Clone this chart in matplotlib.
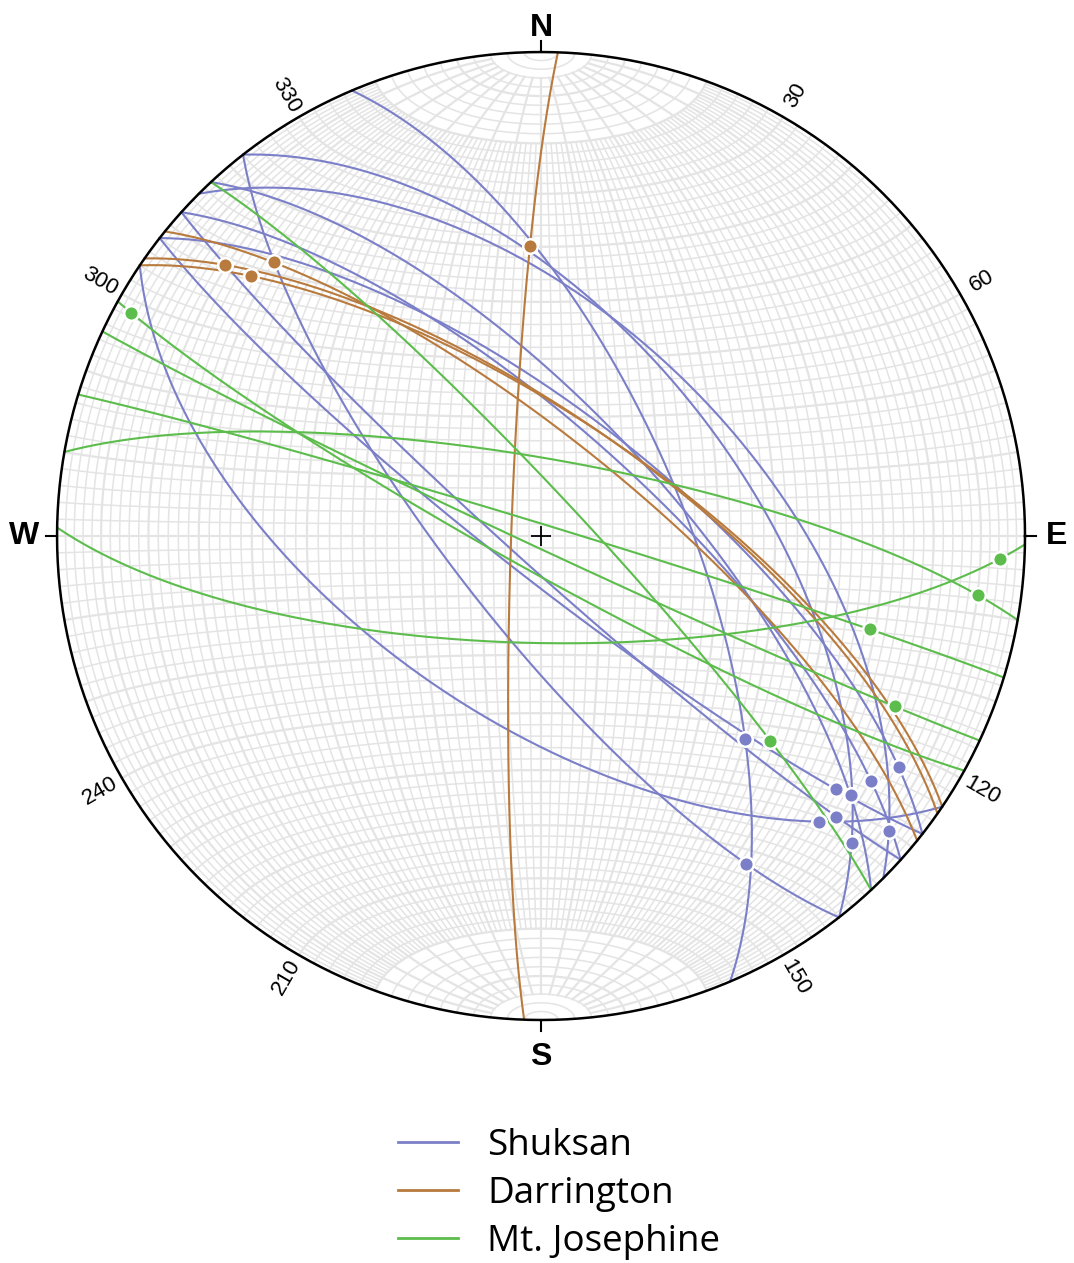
import numpy as np
import matplotlib.pyplot as plt
from matplotlib.lines import Line2D

# fault planes: strike (right-hand rule), dip, and rake of the slickenline on each plane
shuksan_strike = [337, 322, 142, 317, 315, 312, 132, 308, 128, 124]
shuksan_dip = [66, 56, 75, 69, 54, 72, 85, 69, 83, 59]
shuksan_rake = [135, 167, 22, 161, 172, 163, 17, 166, 21, 22]

darrington_strike = [182, 305, 304, 309]
darrington_dip = [85, 70, 70, 74]
darrington_rake = [140, 16, 22, 23]

josephine_strike = [317, 119, 115, 287, 280, 91]
josephine_dip = [83, 84, 88, 88, 77, 72]
josephine_rake = [143, 176, 20, 150, 170, 6]

group_names = ["Shuksan", "Darrington", "Mt. Josephine"]
group_colors = ["#7b7fc8", "#b87a3d", "#5cbd4c"]

tick_labels = [30, 60, 120, 150, 210, 240, 300, 330]
compass = {"N": 0, "E": 90, "S": 180, "W": 270}


def project(v):
    # lower hemisphere equal-area (Schmidt) projection, unit primitive
    x, y, z = v
    f = 1.0 / np.sqrt(1.0 - z)
    return x * f, y * f


def plane_basis(strike, dip):
    s = np.radians(strike)
    d = np.radians(dip)
    sv = np.array([np.sin(s), np.cos(s), 0.0])
    dd = s + np.pi / 2
    dv = np.array([np.cos(d) * np.sin(dd), np.cos(d) * np.cos(dd), -np.sin(d)])
    return sv, dv


def great_circle(strike, dip):
    sv, dv = plane_basis(strike, dip)
    r = np.radians(np.linspace(0, 180, 361))
    v = np.outer(sv, np.cos(r)) + np.outer(dv, np.sin(r))
    return project(v)


def rake_point(strike, dip, rake):
    sv, dv = plane_basis(strike, dip)
    r = np.radians(rake)
    v = sv * np.cos(r) + dv * np.sin(r)
    return project(v)


def net_line(a, b):
    # a: angle from the N axis, b: rotation about it (both deg, arrays ok)
    a = np.radians(a)
    b = np.radians(b)
    v = np.array([np.sin(a) * np.cos(b), np.cos(a) * np.ones_like(b), -np.sin(a) * np.sin(b)])
    return project(v)


fig = plt.figure(figsize=(10.74, 12.63), dpi=100)
ax = fig.add_axes([0.0531, 0.1924, 0.9013, 0.7664])
ax.set_xlim(-1, 1)
ax.set_ylim(-1, 1)
ax.set_aspect("equal")
ax.axis("off")

grid_c = "#e4e4e4"
t = np.linspace(0, 180, 181)
# small circles about the N-S axis
for a in range(2, 180, 2):
    x, y = net_line(np.full_like(t, a), t)
    ax.plot(x, y, color=grid_c, lw=1.6 if a % 10 == 0 else 1.1, zorder=1)
# meridians, thinned near the poles
for b in range(2, 180, 2):
    if b % 10 == 0:
        lo = 6
    else:
        lo = 20
    u = np.linspace(lo, 180 - lo, 200)
    x, y = net_line(u, np.full_like(u, b))
    ax.plot(x, y, color=grid_c, lw=1.6 if b % 10 == 0 else 1.1, zorder=1)

groups = [
    (shuksan_strike, shuksan_dip, shuksan_rake),
    (darrington_strike, darrington_dip, darrington_rake),
    (josephine_strike, josephine_dip, josephine_rake),
]
for (st, dp, rk), col in zip(groups, group_colors):
    for s, d, r in zip(st, dp, rk):
        x, y = great_circle(s, d)
        ax.plot(x, y, color=col, lw=1.5, zorder=3)
        px, py = rake_point(s, d, r)
        ax.plot(px, py, "o", ms=10.5, color=col, mec="white", mew=1.8, zorder=4)

# primitive circle, centre cross, compass ticks
th = np.linspace(0, 2 * np.pi, 721)
ax.plot(np.cos(th), np.sin(th), color="black", lw=1.8, zorder=5, clip_on=False)
ax.plot(0, 0, "+", color="black", ms=14, mew=1.3, zorder=5)

lbl_r = {"N": 1.05, "E": 1.066, "S": 1.077, "W": 1.068}
for name, az in compass.items():
    a = np.radians(az)
    ax.plot([np.sin(a), 1.022 * np.sin(a)], [np.cos(a), 1.022 * np.cos(a)],
            color="black", lw=1.5, clip_on=False)
    ax.text(lbl_r[name] * np.sin(a), lbl_r[name] * np.cos(a), name,
            ha="center", va="center", fontsize=23, fontweight="bold",
            family="Liberation Sans", clip_on=False)

for az in tick_labels:
    a = np.radians(az)
    rot = 90 - az if az < 180 else 270 - az
    ax.text(1.052 * np.sin(a), 1.052 * np.cos(a), str(az), ha="center", va="center",
            rotation=rot, rotation_mode="anchor", fontsize=16,
            family="Liberation Sans", clip_on=False)

handles = [Line2D([], [], color=c, lw=2) for c in group_colors]
fig.legend(handles, group_names, loc="upper left", bbox_to_anchor=(0.34, 0.133),
           frameon=False, handlelength=1.63, handletextpad=0.79,
           labelspacing=0.32, prop={"family": "Open Sans", "size": 26.5})

fig.savefig("out.png", dpi=100, facecolor="white")
